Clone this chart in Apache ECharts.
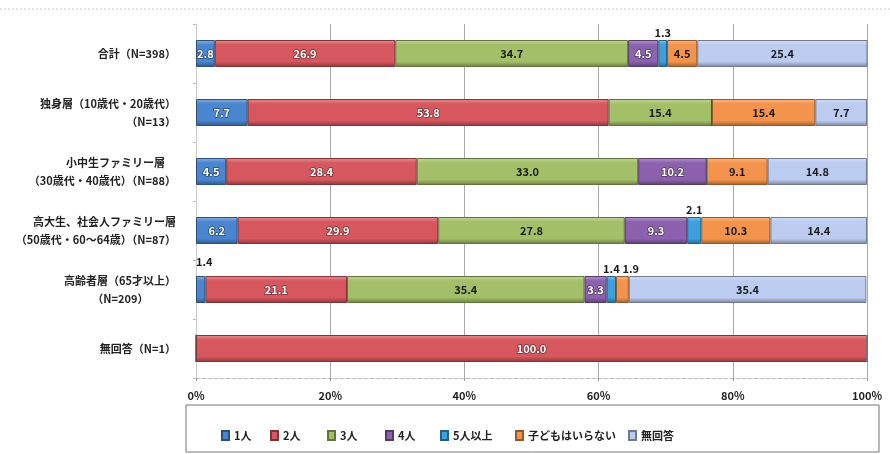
<!DOCTYPE html>
<html>
<head>
<meta charset="utf-8">
<script src="https://cdn.jsdelivr.net/npm/echarts@6/dist/echarts.min.js"></script>
<style>
  html, body { margin: 0; padding: 0; background: #fff; }
  #chart { width: 890px; height: 454px; }
</style>
</head>
<body>
<div id="chart"></div>
<script>
// 回答者区分
const categories = [
  '合計（N=398）',
  '独身層（10歳代・20歳代）\n（N=13）',
  '小中生ファミリー層　\n（30歳代・40歳代）（N=88）',
  '高大生、社会人ファミリー層\n（50歳代・60～64歳）（N=87）',
  '高齢者層（65才以上）\n（N=209）　　　',
  '無回答（N=1）'
]
const seriesNames = ['1人', '2人', '3人', '4人', '5人以上', '子どもはいらない', '無回答']

// 各区分の割合（%）
const one = [2.8, 7.7, 4.5, 6.2, 1.4, 0]
const two = [26.9, 53.8, 28.4, 29.9, 21.1, 100.0]
const three = [34.7, 15.4, 33.0, 27.8, 35.4, 0]
const four = [4.5, 0, 10.2, 9.3, 3.3, 0]
const fivePlus = [1.3, 0, 0, 2.1, 1.4, 0]
const noChild = [4.5, 15.4, 9.1, 10.3, 1.9, 0]
const noAnswer = [25.4, 7.7, 14.8, 14.4, 35.4, 0]

const xTicks = ['0%', '20%', '40%', '60%', '80%', '100%']

const colors = ['#4a86cf', '#d6575e', '#a3c068', '#8c62ae', '#3d9fdc', '#f4944c', '#bccbf0']
const whiteText = [true, true, false, true, false, false, false]
const legendLeft = [216, 265, 322, 380, 435, 510, 623]

function mix(hex, target, t) {
  const a = parseInt(hex.slice(1), 16)
  const r = (a >> 16) & 255, g = (a >> 8) & 255, b = a & 255
  const m = c => Math.round(c + (target - c) * t)
  return 'rgb(' + m(r) + ',' + m(g) + ',' + m(b) + ')'
}

function bevel(c) {
  return new echarts.graphic.LinearGradient(0, 0, 0, 1, [
    { offset: 0, color: mix(c, 255, 0.35) },
    { offset: 0.18, color: c },
    { offset: 0.8, color: c },
    { offset: 1, color: mix(c, 0, 0.35) }
  ])
}

const chart = echarts.init(document.getElementById('chart'))
const font = '"Noto Sans CJK JP", "Noto Sans", sans-serif'

const allValues = [one, two, three, four, fivePlus, noChild, noAnswer]

const series = allValues.map((vals, si) => {
  const insideLabel = whiteText[si]
    ? { color: '#fff', textBorderColor: mix(colors[si], 0, 0.45), textBorderWidth: 1.5 }
    : { color: '#1a1a1a' }
  return {
    name: seriesNames[si],
    type: 'bar',
    stack: 'total',
    barWidth: 27,
    itemStyle: {
      color: bevel(colors[si]),
      borderColor: mix(colors[si], 0, 0.4),
      borderWidth: 1
    },
    label: Object.assign({
      show: true,
      position: 'inside',
      fontSize: 11,
      fontWeight: 'bold',
      fontFamily: font,
      formatter: p => (p.value ? p.value.toFixed(1) : '')
    }, insideLabel),
    data: vals.map(v => {
      if (v > 0 && v < 2.5) {
        // 細い棒はラベルを上に出す
        const lab = { position: 'top', distance: 2, color: '#1a1a1a', textBorderWidth: 0 }
        if (si === 0) lab.position = [0, -20]
        if (si === 5) lab.align = 'left'
        return { value: v, label: lab }
      }
      return v
    })
  }
})

const legends = seriesNames.map((n, i) => ({
  data: [n],
  left: legendLeft[i],
  top: 425,
  itemWidth: 7,
  itemHeight: 9,
  icon: 'rect',
  textStyle: { fontSize: 11, fontWeight: 'bold', fontFamily: font, color: '#222' }
}))

chart.setOption({
  animation: false,
  backgroundColor: '#fff',
  grid: { left: 196, right: 23, top: 24, bottom: 76 },
  legend: legends,
  graphic: [
    {
      type: 'rect',
      shape: { x: 186, y: 405, width: 693, height: 47 },
      style: { fill: 'none', stroke: '#777', lineWidth: 1 }
    },
    {
      type: 'line',
      shape: { x1: 0, y1: 9, x2: 890, y2: 9 },
      style: { stroke: '#ccc', lineWidth: 1, lineDash: [2, 2] }
    }
  ],
  xAxis: {
    type: 'value',
    min: 0,
    max: 100,
    interval: 20,
    axisLine: { show: true, lineStyle: { color: '#bbb', type: 'dashed' } },
    axisTick: { show: true, length: 3, lineStyle: { color: '#999' } },
    splitLine: { show: true, lineStyle: { color: '#aaa', width: 1 } },
    axisLabel: {
      margin: 12,
      fontSize: 11,
      fontWeight: 'bold',
      fontFamily: font,
      color: '#222',
      formatter: v => xTicks[Math.round(v / 20)]
    }
  },
  yAxis: {
    type: 'category',
    inverse: true,
    data: categories,
    axisLine: { show: true, lineStyle: { color: '#ccc' } },
    axisTick: { show: true, length: 3, lineStyle: { color: '#bbb' } },
    axisLabel: {
      margin: 20,
      fontSize: 11,
      fontWeight: 'bold',
      fontFamily: font,
      color: '#222',
      lineHeight: 18
    }
  },
  series: series
})
</script>
</body>
</html>
